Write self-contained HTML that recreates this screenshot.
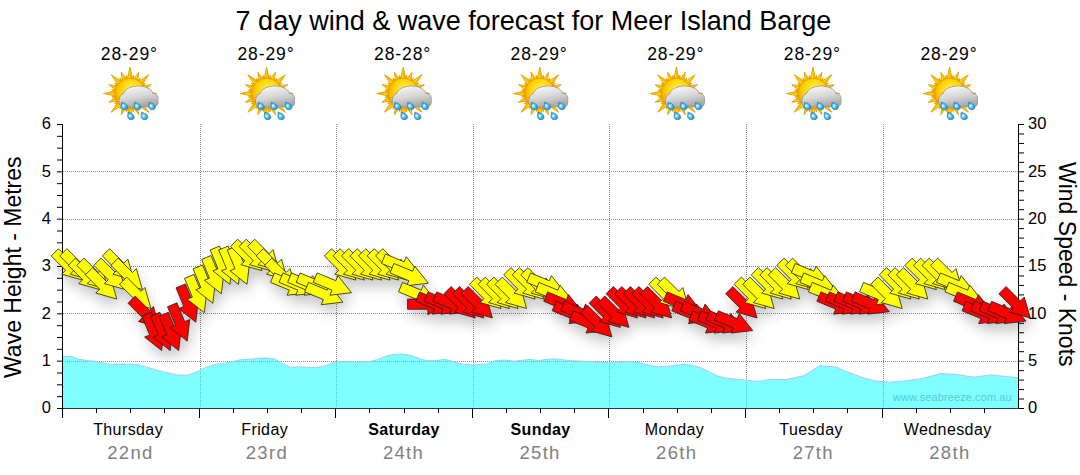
<!DOCTYPE html>
<html><head><meta charset="utf-8"><style>
html,body{margin:0;padding:0;background:#fff;}
body{width:1080px;height:475px;position:relative;overflow:hidden;font-family:"Liberation Sans",sans-serif;}
</style></head><body>
<svg width="1080" height="475" viewBox="0 0 1080 475" style="position:absolute;left:0;top:0">
<defs>
<filter id="sh" x="-20%" y="-50%" width="140%" height="200%"><feGaussianBlur stdDeviation="6.5"/></filter>
<radialGradient id="sun" cx="0.55" cy="0.4" r="0.65"><stop offset="0" stop-color="#fff26a"/><stop offset="0.55" stop-color="#ffd400"/><stop offset="1" stop-color="#f09800"/></radialGradient>
<linearGradient id="cloud" gradientUnits="userSpaceOnUse" x1="0" y1="-8" x2="4" y2="14"><stop offset="0" stop-color="#fafafa"/><stop offset="0.55" stop-color="#d6d6d6"/><stop offset="1" stop-color="#a8a8a8"/></linearGradient>
<radialGradient id="drop" cx="0.4" cy="0.5" r="0.65"><stop offset="0" stop-color="#b8ecff"/><stop offset="0.55" stop-color="#38b4ec"/><stop offset="1" stop-color="#1880c8"/></radialGradient>
<symbol id="icon" overflow="visible"><path d="M-2.92 -12.67 L0.00 -26.50 L2.92 -12.67Z M2.37 -12.78 L8.80 -21.25 L7.36 -10.71Z M6.89 -11.02 L18.74 -18.74 L11.02 -6.89Z M10.71 -7.36 L21.25 -8.80 L12.78 -2.37Z M12.67 -2.92 L26.50 0.00 L12.67 2.92Z M12.78 2.37 L21.25 8.80 L10.71 7.36Z M11.02 6.89 L18.74 18.74 L6.89 11.02Z M7.36 10.71 L8.80 21.25 L2.37 12.78Z M2.92 12.67 L0.00 26.50 L-2.92 12.67Z M-2.37 12.78 L-8.80 21.25 L-7.36 10.71Z M-6.89 11.02 L-18.74 18.74 L-11.02 6.89Z M-10.71 7.36 L-21.25 8.80 L-12.78 2.37Z M-12.67 2.92 L-26.50 0.00 L-12.67 -2.92Z M-12.78 -2.37 L-21.25 -8.80 L-10.71 -7.36Z M-11.02 -6.89 L-18.74 -18.74 L-6.89 -11.02Z M-7.36 -10.71 L-8.80 -21.25 L-2.37 -12.78Z M1.19 -12.95 L3.61 -18.14 L3.86 -12.42Z M6.05 -11.50 L10.28 -15.38 L8.31 -9.99Z M9.99 -8.31 L15.38 -10.28 L11.50 -6.05Z M12.42 -3.86 L18.14 -3.61 L12.95 -1.19Z M12.95 1.19 L18.14 3.61 L12.42 3.86Z M11.50 6.05 L15.38 10.28 L9.99 8.31Z M8.31 9.99 L10.28 15.38 L6.05 11.50Z M3.86 12.42 L3.61 18.14 L1.19 12.95Z M-1.19 12.95 L-3.61 18.14 L-3.86 12.42Z M-6.05 11.50 L-10.28 15.38 L-8.31 9.99Z M-9.99 8.31 L-15.38 10.28 L-11.50 6.05Z M-12.42 3.86 L-18.14 3.61 L-12.95 1.19Z M-12.95 -1.19 L-18.14 -3.61 L-12.42 -3.86Z M-11.50 -6.05 L-15.38 -10.28 L-9.99 -8.31Z M-8.31 -9.99 L-10.28 -15.38 L-6.05 -11.50Z M-3.86 -12.42 L-3.61 -18.14 L-1.19 -12.95Z" fill="#ffd800" stroke="#d89400" stroke-width="0.8" stroke-linejoin="round"/><path d="M0.00 -13.00 L0.00 -26.50 L2.92 -12.67Z M4.97 -12.01 L8.80 -21.25 L7.36 -10.71Z M9.19 -9.19 L18.74 -18.74 L11.02 -6.89Z M12.01 -4.97 L21.25 -8.80 L12.78 -2.37Z M13.00 0.00 L26.50 0.00 L12.67 2.92Z M12.01 4.97 L21.25 8.80 L10.71 7.36Z M9.19 9.19 L18.74 18.74 L6.89 11.02Z M4.97 12.01 L8.80 21.25 L2.37 12.78Z M0.00 13.00 L0.00 26.50 L-2.92 12.67Z M-4.97 12.01 L-8.80 21.25 L-7.36 10.71Z M-9.19 9.19 L-18.74 18.74 L-11.02 6.89Z M-12.01 4.97 L-21.25 8.80 L-12.78 2.37Z M-13.00 0.00 L-26.50 0.00 L-12.67 -2.92Z M-12.01 -4.97 L-21.25 -8.80 L-10.71 -7.36Z M-9.19 -9.19 L-18.74 -18.74 L-6.89 -11.02Z M-4.97 -12.01 L-8.80 -21.25 L-2.37 -12.78Z" fill="#f4b000" opacity="0.85"/><circle cx="0" cy="0" r="15.3" fill="url(#sun)" stroke="#e09000" stroke-width="0.7"/><g fill="#959595" stroke="#959595" stroke-width="1.4"><circle cx="-4.3" cy="6.2" r="6.2"/><ellipse cx="8.2" cy="1.6" rx="14.6" ry="8.9"/><circle cx="22.9" cy="5.2" r="5"/><rect x="-10.5" y="4" width="38.3" height="9" rx="4" ry="4"/></g><g fill="url(#cloud)"><circle cx="-4.3" cy="6.2" r="6.2"/><ellipse cx="8.2" cy="1.6" rx="14.6" ry="8.9"/><circle cx="22.9" cy="5.2" r="5"/><rect x="-10.5" y="4" width="38.3" height="9" rx="4" ry="4"/></g><path d="M-8.50 8.70 C-5.80 9.10 -2.20 10.90 -2.20 13.70 C-2.20 15.80 -3.90 16.20 -5.50 16.20 C-7.70 16.20 -8.90 14.60 -8.90 12.70 Z" fill="url(#drop)" stroke="#2070a8" stroke-width="0.5"/><ellipse cx="-6.70" cy="12.30" rx="1" ry="1.3" fill="#e8f8ff" opacity="0.8"/><path d="M4.50 8.70 C7.20 9.10 10.80 10.90 10.80 13.70 C10.80 15.80 9.10 16.20 7.50 16.20 C5.30 16.20 4.10 14.60 4.10 12.70 Z" fill="url(#drop)" stroke="#2070a8" stroke-width="0.5"/><ellipse cx="6.30" cy="12.30" rx="1" ry="1.3" fill="#e8f8ff" opacity="0.8"/><path d="M19.00 8.70 C21.70 9.10 25.30 10.90 25.30 13.70 C25.30 15.80 23.60 16.20 22.00 16.20 C19.80 16.20 18.60 14.60 18.60 12.70 Z" fill="url(#drop)" stroke="#2070a8" stroke-width="0.5"/><ellipse cx="20.80" cy="12.30" rx="1" ry="1.3" fill="#e8f8ff" opacity="0.8"/><path d="M-2.00 18.70 C0.70 19.10 4.30 20.90 4.30 23.70 C4.30 25.80 2.60 26.20 1.00 26.20 C-1.20 26.20 -2.40 24.60 -2.40 22.70 Z" fill="url(#drop)" stroke="#2070a8" stroke-width="0.5"/><ellipse cx="-0.20" cy="22.30" rx="1" ry="1.3" fill="#e8f8ff" opacity="0.8"/><path d="M11.50 18.70 C14.20 19.10 17.80 20.90 17.80 23.70 C17.80 25.80 16.10 26.20 14.50 26.20 C12.30 26.20 11.10 24.60 11.10 22.70 Z" fill="url(#drop)" stroke="#2070a8" stroke-width="0.5"/><ellipse cx="13.30" cy="22.30" rx="1" ry="1.3" fill="#e8f8ff" opacity="0.8"/></symbol>
</defs>
<line x1="63" y1="361.5" x2="1018" y2="361.5" stroke="#8c8c8c" stroke-width="1" stroke-dasharray="1 1"/>
<line x1="63" y1="313.5" x2="1018" y2="313.5" stroke="#8c8c8c" stroke-width="1" stroke-dasharray="1 1"/>
<line x1="63" y1="266.5" x2="1018" y2="266.5" stroke="#8c8c8c" stroke-width="1" stroke-dasharray="1 1"/>
<line x1="63" y1="219.5" x2="1018" y2="219.5" stroke="#8c8c8c" stroke-width="1" stroke-dasharray="1 1"/>
<line x1="63" y1="171.5" x2="1018" y2="171.5" stroke="#8c8c8c" stroke-width="1" stroke-dasharray="1 1"/>
<line x1="200.5" y1="124" x2="200.5" y2="408" stroke="#8c8c8c" stroke-width="1" stroke-dasharray="1 1"/>
<line x1="336.5" y1="124" x2="336.5" y2="408" stroke="#8c8c8c" stroke-width="1" stroke-dasharray="1 1"/>
<line x1="473.5" y1="124" x2="473.5" y2="408" stroke="#8c8c8c" stroke-width="1" stroke-dasharray="1 1"/>
<line x1="609.5" y1="124" x2="609.5" y2="408" stroke="#8c8c8c" stroke-width="1" stroke-dasharray="1 1"/>
<line x1="746.5" y1="124" x2="746.5" y2="408" stroke="#8c8c8c" stroke-width="1" stroke-dasharray="1 1"/>
<line x1="883.5" y1="124" x2="883.5" y2="408" stroke="#8c8c8c" stroke-width="1" stroke-dasharray="1 1"/>
<path d="M62 408.5 L62.0 356.3 L70.3 356.3 L78.7 359.1 L87.0 360.6 L95.3 361.3 L102.7 363.0 L110.1 364.2 L126.8 364.1 L137.0 364.4 L145.3 366.7 L154.6 369.4 L160.0 370.9 L169.3 373.2 L178.5 375.1 L187.8 375.1 L197.0 371.9 L200.7 369.8 L206.3 367.2 L215.6 364.3 L224.8 363.3 L234.1 361.2 L241.5 359.6 L252.6 358.9 L258.0 358.3 L265.4 357.8 L274.7 359.1 L282.1 363.1 L290.4 367.2 L299.7 366.8 L315.4 367.7 L324.7 366.1 L334.9 361.7 L350.6 361.7 L356.0 362.1 L369.9 361.5 L377.3 359.6 L385.6 356.2 L393.0 354.4 L402.3 354.1 L411.6 355.6 L420.8 359.0 L427.3 360.8 L434.7 360.6 L444.0 359.6 L448.6 360.2 L455.0 362.1 L463.3 364.3 L472.5 364.9 L486.4 364.0 L495.7 360.6 L504.9 360.1 L514.2 361.2 L529.9 359.4 L538.3 360.6 L546.6 359.4 L553.0 358.9 L556.6 358.9 L570.5 360.7 L589.0 361.5 L607.6 362.6 L616.8 362.1 L630.7 361.5 L640.0 362.8 L651.0 365.5 L658.3 366.9 L668.5 366.2 L684.3 364.2 L691.7 365.3 L700.9 367.8 L710.2 372.2 L717.6 376.1 L725.9 378.1 L738.0 379.4 L749.0 380.4 L753.6 381.2 L760.0 381.2 L769.3 379.5 L786.9 379.5 L803.6 375.8 L820.2 365.5 L836.9 367.3 L846.0 371.5 L855.3 374.9 L864.5 378.1 L873.8 380.7 L888.6 382.3 L901.6 381.2 L920.1 378.9 L930.0 376.5 L940.2 373.5 L955.9 374.3 L973.5 377.2 L990.2 374.9 L1018.0 377.7 L1018 408.5 Z" fill="#00ffff" fill-opacity="0.5"/>
<path d="M62.0 356.3 L70.3 356.3 L78.7 359.1 L87.0 360.6 L95.3 361.3 L102.7 363.0 L110.1 364.2 L126.8 364.1 L137.0 364.4 L145.3 366.7 L154.6 369.4 L160.0 370.9 L169.3 373.2 L178.5 375.1 L187.8 375.1 L197.0 371.9 L200.7 369.8 L206.3 367.2 L215.6 364.3 L224.8 363.3 L234.1 361.2 L241.5 359.6 L252.6 358.9 L258.0 358.3 L265.4 357.8 L274.7 359.1 L282.1 363.1 L290.4 367.2 L299.7 366.8 L315.4 367.7 L324.7 366.1 L334.9 361.7 L350.6 361.7 L356.0 362.1 L369.9 361.5 L377.3 359.6 L385.6 356.2 L393.0 354.4 L402.3 354.1 L411.6 355.6 L420.8 359.0 L427.3 360.8 L434.7 360.6 L444.0 359.6 L448.6 360.2 L455.0 362.1 L463.3 364.3 L472.5 364.9 L486.4 364.0 L495.7 360.6 L504.9 360.1 L514.2 361.2 L529.9 359.4 L538.3 360.6 L546.6 359.4 L553.0 358.9 L556.6 358.9 L570.5 360.7 L589.0 361.5 L607.6 362.6 L616.8 362.1 L630.7 361.5 L640.0 362.8 L651.0 365.5 L658.3 366.9 L668.5 366.2 L684.3 364.2 L691.7 365.3 L700.9 367.8 L710.2 372.2 L717.6 376.1 L725.9 378.1 L738.0 379.4 L749.0 380.4 L753.6 381.2 L760.0 381.2 L769.3 379.5 L786.9 379.5 L803.6 375.8 L820.2 365.5 L836.9 367.3 L846.0 371.5 L855.3 374.9 L864.5 378.1 L873.8 380.7 L888.6 382.3 L901.6 381.2 L920.1 378.9 L930.0 376.5 L940.2 373.5 L955.9 374.3 L973.5 377.2 L990.2 374.9 L1018.0 377.7" fill="none" stroke="#9cc4ff" stroke-width="0.9"/>
<line x1="62.5" y1="124" x2="62.5" y2="418" stroke="#000" stroke-width="1"/>
<line x1="1018.5" y1="124" x2="1018.5" y2="409" stroke="#000" stroke-width="1"/>
<line x1="62" y1="408.5" x2="1019" y2="408.5" stroke="#183c64" stroke-width="1"/>
<line x1="57" y1="408.50" x2="62" y2="408.50" stroke="#000" stroke-width="1"/>
<line x1="57" y1="396.67" x2="62" y2="396.67" stroke="#000" stroke-width="1"/>
<line x1="57" y1="384.83" x2="62" y2="384.83" stroke="#000" stroke-width="1"/>
<line x1="57" y1="373.00" x2="62" y2="373.00" stroke="#000" stroke-width="1"/>
<line x1="57" y1="361.17" x2="62" y2="361.17" stroke="#000" stroke-width="1"/>
<line x1="57" y1="349.33" x2="62" y2="349.33" stroke="#000" stroke-width="1"/>
<line x1="57" y1="337.50" x2="62" y2="337.50" stroke="#000" stroke-width="1"/>
<line x1="57" y1="325.67" x2="62" y2="325.67" stroke="#000" stroke-width="1"/>
<line x1="57" y1="313.83" x2="62" y2="313.83" stroke="#000" stroke-width="1"/>
<line x1="57" y1="302.00" x2="62" y2="302.00" stroke="#000" stroke-width="1"/>
<line x1="57" y1="290.17" x2="62" y2="290.17" stroke="#000" stroke-width="1"/>
<line x1="57" y1="278.33" x2="62" y2="278.33" stroke="#000" stroke-width="1"/>
<line x1="57" y1="266.50" x2="62" y2="266.50" stroke="#000" stroke-width="1"/>
<line x1="57" y1="254.67" x2="62" y2="254.67" stroke="#000" stroke-width="1"/>
<line x1="57" y1="242.83" x2="62" y2="242.83" stroke="#000" stroke-width="1"/>
<line x1="57" y1="231.00" x2="62" y2="231.00" stroke="#000" stroke-width="1"/>
<line x1="57" y1="219.17" x2="62" y2="219.17" stroke="#000" stroke-width="1"/>
<line x1="57" y1="207.33" x2="62" y2="207.33" stroke="#000" stroke-width="1"/>
<line x1="57" y1="195.50" x2="62" y2="195.50" stroke="#000" stroke-width="1"/>
<line x1="57" y1="183.67" x2="62" y2="183.67" stroke="#000" stroke-width="1"/>
<line x1="57" y1="171.83" x2="62" y2="171.83" stroke="#000" stroke-width="1"/>
<line x1="57" y1="160.00" x2="62" y2="160.00" stroke="#000" stroke-width="1"/>
<line x1="57" y1="148.17" x2="62" y2="148.17" stroke="#000" stroke-width="1"/>
<line x1="57" y1="136.33" x2="62" y2="136.33" stroke="#000" stroke-width="1"/>
<line x1="57" y1="124.50" x2="62" y2="124.50" stroke="#000" stroke-width="1"/>
<line x1="1019" y1="408.50" x2="1024" y2="408.50" stroke="#000" stroke-width="1"/>
<line x1="1019" y1="399.03" x2="1024" y2="399.03" stroke="#000" stroke-width="1"/>
<line x1="1019" y1="389.57" x2="1024" y2="389.57" stroke="#000" stroke-width="1"/>
<line x1="1019" y1="380.10" x2="1024" y2="380.10" stroke="#000" stroke-width="1"/>
<line x1="1019" y1="370.63" x2="1024" y2="370.63" stroke="#000" stroke-width="1"/>
<line x1="1019" y1="361.17" x2="1024" y2="361.17" stroke="#000" stroke-width="1"/>
<line x1="1019" y1="351.70" x2="1024" y2="351.70" stroke="#000" stroke-width="1"/>
<line x1="1019" y1="342.23" x2="1024" y2="342.23" stroke="#000" stroke-width="1"/>
<line x1="1019" y1="332.77" x2="1024" y2="332.77" stroke="#000" stroke-width="1"/>
<line x1="1019" y1="323.30" x2="1024" y2="323.30" stroke="#000" stroke-width="1"/>
<line x1="1019" y1="313.83" x2="1024" y2="313.83" stroke="#000" stroke-width="1"/>
<line x1="1019" y1="304.37" x2="1024" y2="304.37" stroke="#000" stroke-width="1"/>
<line x1="1019" y1="294.90" x2="1024" y2="294.90" stroke="#000" stroke-width="1"/>
<line x1="1019" y1="285.43" x2="1024" y2="285.43" stroke="#000" stroke-width="1"/>
<line x1="1019" y1="275.97" x2="1024" y2="275.97" stroke="#000" stroke-width="1"/>
<line x1="1019" y1="266.50" x2="1024" y2="266.50" stroke="#000" stroke-width="1"/>
<line x1="1019" y1="257.03" x2="1024" y2="257.03" stroke="#000" stroke-width="1"/>
<line x1="1019" y1="247.57" x2="1024" y2="247.57" stroke="#000" stroke-width="1"/>
<line x1="1019" y1="238.10" x2="1024" y2="238.10" stroke="#000" stroke-width="1"/>
<line x1="1019" y1="228.63" x2="1024" y2="228.63" stroke="#000" stroke-width="1"/>
<line x1="1019" y1="219.17" x2="1024" y2="219.17" stroke="#000" stroke-width="1"/>
<line x1="1019" y1="209.70" x2="1024" y2="209.70" stroke="#000" stroke-width="1"/>
<line x1="1019" y1="200.23" x2="1024" y2="200.23" stroke="#000" stroke-width="1"/>
<line x1="1019" y1="190.77" x2="1024" y2="190.77" stroke="#000" stroke-width="1"/>
<line x1="1019" y1="181.30" x2="1024" y2="181.30" stroke="#000" stroke-width="1"/>
<line x1="1019" y1="171.83" x2="1024" y2="171.83" stroke="#000" stroke-width="1"/>
<line x1="1019" y1="162.37" x2="1024" y2="162.37" stroke="#000" stroke-width="1"/>
<line x1="1019" y1="152.90" x2="1024" y2="152.90" stroke="#000" stroke-width="1"/>
<line x1="1019" y1="143.43" x2="1024" y2="143.43" stroke="#000" stroke-width="1"/>
<line x1="1019" y1="133.97" x2="1024" y2="133.97" stroke="#000" stroke-width="1"/>
<line x1="1019" y1="124.50" x2="1024" y2="124.50" stroke="#000" stroke-width="1"/>
<line x1="62.5" y1="408" x2="62.5" y2="418" stroke="#000" stroke-width="1"/>
<line x1="96.5" y1="408" x2="96.5" y2="413" stroke="#000" stroke-width="1"/>
<line x1="130.5" y1="408" x2="130.5" y2="413" stroke="#000" stroke-width="1"/>
<line x1="164.5" y1="408" x2="164.5" y2="413" stroke="#000" stroke-width="1"/>
<line x1="199.5" y1="408" x2="199.5" y2="418" stroke="#000" stroke-width="1"/>
<line x1="233.5" y1="408" x2="233.5" y2="413" stroke="#000" stroke-width="1"/>
<line x1="267.5" y1="408" x2="267.5" y2="413" stroke="#000" stroke-width="1"/>
<line x1="301.5" y1="408" x2="301.5" y2="413" stroke="#000" stroke-width="1"/>
<line x1="335.5" y1="408" x2="335.5" y2="418" stroke="#000" stroke-width="1"/>
<line x1="369.5" y1="408" x2="369.5" y2="413" stroke="#000" stroke-width="1"/>
<line x1="404.5" y1="408" x2="404.5" y2="413" stroke="#000" stroke-width="1"/>
<line x1="438.5" y1="408" x2="438.5" y2="413" stroke="#000" stroke-width="1"/>
<line x1="472.5" y1="408" x2="472.5" y2="418" stroke="#000" stroke-width="1"/>
<line x1="506.5" y1="408" x2="506.5" y2="413" stroke="#000" stroke-width="1"/>
<line x1="540.5" y1="408" x2="540.5" y2="413" stroke="#000" stroke-width="1"/>
<line x1="574.5" y1="408" x2="574.5" y2="413" stroke="#000" stroke-width="1"/>
<line x1="608.5" y1="408" x2="608.5" y2="418" stroke="#000" stroke-width="1"/>
<line x1="643.5" y1="408" x2="643.5" y2="413" stroke="#000" stroke-width="1"/>
<line x1="677.5" y1="408" x2="677.5" y2="413" stroke="#000" stroke-width="1"/>
<line x1="711.5" y1="408" x2="711.5" y2="413" stroke="#000" stroke-width="1"/>
<line x1="745.5" y1="408" x2="745.5" y2="418" stroke="#000" stroke-width="1"/>
<line x1="779.5" y1="408" x2="779.5" y2="413" stroke="#000" stroke-width="1"/>
<line x1="813.5" y1="408" x2="813.5" y2="413" stroke="#000" stroke-width="1"/>
<line x1="847.5" y1="408" x2="847.5" y2="413" stroke="#000" stroke-width="1"/>
<line x1="882.5" y1="408" x2="882.5" y2="418" stroke="#000" stroke-width="1"/>
<line x1="916.5" y1="408" x2="916.5" y2="413" stroke="#000" stroke-width="1"/>
<line x1="950.5" y1="408" x2="950.5" y2="413" stroke="#000" stroke-width="1"/>
<line x1="984.5" y1="408" x2="984.5" y2="413" stroke="#000" stroke-width="1"/>
<text x="893" y="401" font-family="Liberation Sans" font-size="11" letter-spacing="0.1" fill="#5ccad4">www.seabreeze.com.au</text>
<g filter="url(#sh)" opacity="0.22" transform="translate(2,8)"><path d="M58.39 248.69 L72.75 263.05 L76.64 259.16 L82.58 280.09 L61.65 274.15 L65.54 270.26 L51.18 255.91Z"/><path d="M66.93 248.69 L81.29 263.05 L85.17 259.16 L91.11 280.09 L70.18 274.15 L74.07 270.26 L59.72 255.91Z"/><path d="M75.47 258.16 L89.82 272.51 L93.71 268.62 L99.65 289.56 L78.72 283.62 L82.61 279.73 L68.26 265.37Z"/><path d="M84.01 258.16 L98.36 272.51 L102.25 268.62 L108.19 289.56 L87.26 283.62 L91.15 279.73 L76.79 265.37Z"/><path d="M92.54 267.63 L106.90 281.98 L110.79 278.09 L116.73 299.02 L95.80 293.08 L99.69 289.19 L85.33 274.84Z"/><path d="M101.08 258.16 L115.44 272.51 L119.32 268.62 L125.26 289.56 L104.33 283.62 L108.22 279.73 L93.87 265.37Z"/><path d="M109.62 248.69 L123.97 263.05 L127.86 259.16 L133.80 280.09 L112.87 274.15 L116.76 270.26 L102.41 255.91Z"/><path d="M118.16 258.16 L132.51 272.51 L136.40 268.62 L142.34 289.56 L121.41 283.62 L125.30 279.73 L110.94 265.37Z"/><path d="M126.69 277.09 L141.05 291.45 L144.94 287.56 L150.88 308.49 L129.95 302.55 L133.84 298.66 L119.48 284.31Z"/><path d="M135.23 296.03 L149.59 310.38 L153.47 306.49 L159.41 327.42 L138.48 321.48 L142.37 317.59 L128.02 303.24Z"/><path d="M151.30 312.32 L159.07 331.08 L164.15 328.97 L161.63 350.58 L144.56 337.09 L149.64 334.98 L141.87 316.23Z"/><path d="M159.84 312.32 L167.60 331.08 L172.69 328.97 L170.16 350.58 L153.10 337.09 L158.18 334.98 L150.41 316.23Z"/><path d="M168.37 312.32 L176.14 331.08 L181.22 328.97 L178.70 350.58 L161.64 337.09 L166.72 334.98 L158.95 316.23Z"/><path d="M176.91 302.86 L184.68 321.61 L189.76 319.51 L187.24 341.12 L170.17 327.62 L175.26 325.51 L167.49 306.76Z"/><path d="M185.45 283.92 L193.22 302.68 L198.30 300.57 L195.78 322.18 L178.71 308.69 L183.79 306.58 L176.02 287.83Z"/><path d="M193.99 274.46 L201.75 293.21 L206.84 291.11 L204.31 312.72 L187.25 299.22 L192.33 297.11 L184.56 278.36Z"/><path d="M202.52 264.99 L210.29 283.74 L215.37 281.64 L212.85 303.25 L195.79 289.75 L200.87 287.65 L193.10 268.89Z"/><path d="M211.06 255.52 L218.83 274.28 L223.91 272.17 L221.39 293.78 L204.32 280.29 L209.41 278.18 L201.64 259.43Z"/><path d="M219.60 246.06 L227.37 264.81 L232.45 262.71 L229.93 284.32 L212.86 270.82 L217.94 268.71 L210.17 249.96Z"/><path d="M228.14 246.06 L235.90 264.81 L240.99 262.71 L238.46 284.32 L221.40 270.82 L226.48 268.71 L218.71 249.96Z"/><path d="M236.67 246.06 L244.44 264.81 L249.52 262.71 L247.00 284.32 L229.94 270.82 L235.02 268.71 L227.25 249.96Z"/><path d="M237.68 239.23 L252.04 253.58 L255.92 249.69 L261.86 270.62 L240.93 264.68 L244.82 260.79 L230.47 246.44Z"/><path d="M246.22 239.23 L260.57 253.58 L264.46 249.69 L270.40 270.62 L249.47 264.68 L253.36 260.79 L239.01 246.44Z"/><path d="M254.76 239.23 L269.11 253.58 L273.00 249.69 L278.94 270.62 L258.01 264.68 L261.90 260.79 L247.54 246.44Z"/><path d="M263.29 248.69 L277.65 263.05 L281.54 259.16 L287.48 280.09 L266.55 274.15 L270.44 270.26 L256.08 255.91Z"/><path d="M271.83 258.16 L286.19 272.51 L290.07 268.62 L296.01 289.56 L275.08 283.62 L278.97 279.73 L264.62 265.37Z"/><path d="M274.42 272.94 L293.18 280.71 L295.28 275.63 L308.78 292.70 L287.17 295.22 L289.27 290.14 L270.52 282.37Z"/><path d="M282.96 272.94 L301.71 280.71 L303.82 275.63 L317.32 292.70 L295.71 295.22 L297.81 290.14 L279.06 282.37Z"/><path d="M291.50 272.94 L310.25 280.71 L312.36 275.63 L325.85 292.70 L304.24 295.22 L306.35 290.14 L287.59 282.37Z"/><path d="M300.03 272.94 L318.79 280.71 L320.89 275.63 L334.39 292.70 L312.78 295.22 L314.89 290.14 L296.13 282.37Z"/><path d="M308.57 282.41 L327.33 290.18 L329.43 285.10 L342.93 302.16 L321.32 304.68 L323.42 299.60 L304.67 291.83Z"/><path d="M317.11 272.94 L335.86 280.71 L337.97 275.63 L351.47 292.70 L329.86 295.22 L331.96 290.14 L313.21 282.37Z"/><path d="M331.59 248.69 L345.95 263.05 L349.84 259.16 L355.78 280.09 L334.85 274.15 L338.74 270.26 L324.38 255.91Z"/><path d="M340.13 248.69 L354.49 263.05 L358.37 259.16 L364.31 280.09 L343.38 274.15 L347.27 270.26 L332.92 255.91Z"/><path d="M348.67 248.69 L363.02 263.05 L366.91 259.16 L372.85 280.09 L351.92 274.15 L355.81 270.26 L341.46 255.91Z"/><path d="M357.21 248.69 L371.56 263.05 L375.45 259.16 L381.39 280.09 L360.46 274.15 L364.35 270.26 L349.99 255.91Z"/><path d="M365.74 248.69 L380.10 263.05 L383.99 259.16 L389.93 280.09 L369.00 274.15 L372.89 270.26 L358.53 255.91Z"/><path d="M374.28 248.69 L388.64 263.05 L392.52 259.16 L398.46 280.09 L377.53 274.15 L381.42 270.26 L367.07 255.91Z"/><path d="M382.82 248.69 L397.17 263.05 L401.06 259.16 L407.00 280.09 L386.07 274.15 L389.96 270.26 L375.61 255.91Z"/><path d="M385.41 254.01 L404.16 261.78 L406.27 256.70 L419.77 273.76 L398.16 276.28 L400.26 271.20 L381.51 263.43Z"/><path d="M393.95 263.48 L412.70 271.25 L414.81 266.16 L428.30 283.23 L406.69 285.75 L408.80 280.67 L390.04 272.90Z"/><path d="M402.48 282.41 L421.24 290.18 L423.34 285.10 L436.84 302.16 L415.23 304.68 L417.34 299.60 L398.58 291.83Z"/><path d="M407.56 299.07 L427.86 299.07 L427.86 293.57 L446.86 304.17 L427.86 314.77 L427.86 309.27 L407.56 309.27Z"/><path d="M419.56 291.88 L438.31 299.65 L440.42 294.56 L453.92 311.63 L432.31 314.15 L434.41 309.07 L415.66 301.30Z"/><path d="M428.10 291.88 L446.85 299.65 L448.96 294.56 L462.45 311.63 L440.84 314.15 L442.95 309.07 L424.19 301.30Z"/><path d="M436.63 291.88 L455.39 299.65 L457.49 294.56 L470.99 311.63 L449.38 314.15 L451.49 309.07 L432.73 301.30Z"/><path d="M451.12 286.56 L465.47 300.91 L469.36 297.02 L475.30 317.96 L454.37 312.02 L458.26 308.13 L443.91 293.77Z"/><path d="M459.66 286.56 L474.01 300.91 L477.90 297.02 L483.84 317.96 L462.91 312.02 L466.80 308.13 L452.44 293.77Z"/><path d="M468.19 286.56 L482.55 300.91 L486.44 297.02 L492.38 317.96 L471.45 312.02 L475.34 308.13 L460.98 293.77Z"/><path d="M476.73 277.09 L491.09 291.45 L494.97 287.56 L500.91 308.49 L479.98 302.55 L483.87 298.66 L469.52 284.31Z"/><path d="M485.27 277.09 L499.62 291.45 L503.51 287.56 L509.45 308.49 L488.52 302.55 L492.41 298.66 L478.06 284.31Z"/><path d="M493.81 277.09 L508.16 291.45 L512.05 287.56 L517.99 308.49 L497.06 302.55 L500.95 298.66 L486.59 284.31Z"/><path d="M502.34 277.09 L516.70 291.45 L520.59 287.56 L526.53 308.49 L505.60 302.55 L509.49 298.66 L495.13 284.31Z"/><path d="M510.88 267.63 L525.24 281.98 L529.12 278.09 L535.06 299.02 L514.13 293.08 L518.02 289.19 L503.67 274.84Z"/><path d="M519.42 267.63 L533.77 281.98 L537.66 278.09 L543.60 299.02 L522.67 293.08 L526.56 289.19 L512.21 274.84Z"/><path d="M527.96 267.63 L542.31 281.98 L546.20 278.09 L552.14 299.02 L531.21 293.08 L535.10 289.19 L520.74 274.84Z"/><path d="M530.55 272.94 L549.30 280.71 L551.41 275.63 L564.90 292.70 L543.29 295.22 L545.40 290.14 L526.64 282.37Z"/><path d="M539.08 282.41 L557.84 290.18 L559.94 285.10 L573.44 302.16 L551.83 304.68 L553.94 299.60 L535.18 291.83Z"/><path d="M547.62 291.88 L566.38 299.65 L568.48 294.56 L581.98 311.63 L560.37 314.15 L562.47 309.07 L543.72 301.30Z"/><path d="M556.16 301.34 L574.91 309.11 L577.02 304.03 L590.52 321.10 L568.91 323.62 L571.01 318.54 L552.26 310.77Z"/><path d="M564.70 301.34 L583.45 309.11 L585.56 304.03 L599.05 321.10 L577.44 323.62 L579.55 318.54 L560.79 310.77Z"/><path d="M573.23 310.81 L591.99 318.58 L594.09 313.50 L607.59 330.56 L585.98 333.08 L588.09 328.00 L569.33 320.23Z"/><path d="M587.72 305.49 L602.07 319.85 L605.96 315.96 L611.90 336.89 L590.97 330.95 L594.86 327.06 L580.51 312.71Z"/><path d="M596.26 296.03 L610.61 310.38 L614.50 306.49 L620.44 327.42 L599.51 321.48 L603.40 317.59 L589.04 303.24Z"/><path d="M604.79 296.03 L619.15 310.38 L623.04 306.49 L628.98 327.42 L608.05 321.48 L611.94 317.59 L597.58 303.24Z"/><path d="M613.33 286.56 L627.69 300.91 L631.57 297.02 L637.51 317.96 L616.58 312.02 L620.47 308.13 L606.12 293.77Z"/><path d="M621.87 286.56 L636.22 300.91 L640.11 297.02 L646.05 317.96 L625.12 312.02 L629.01 308.13 L614.66 293.77Z"/><path d="M630.41 286.56 L644.76 300.91 L648.65 297.02 L654.59 317.96 L633.66 312.02 L637.55 308.13 L623.19 293.77Z"/><path d="M638.94 286.56 L653.30 300.91 L657.19 297.02 L663.13 317.96 L642.20 312.02 L646.09 308.13 L631.73 293.77Z"/><path d="M647.48 286.56 L661.84 300.91 L665.72 297.02 L671.66 317.96 L650.73 312.02 L654.62 308.13 L640.27 293.77Z"/><path d="M656.02 277.09 L670.37 291.45 L674.26 287.56 L680.20 308.49 L659.27 302.55 L663.16 298.66 L648.81 284.31Z"/><path d="M664.56 277.09 L678.91 291.45 L682.80 287.56 L688.74 308.49 L667.81 302.55 L671.70 298.66 L657.34 284.31Z"/><path d="M667.15 291.88 L685.90 299.65 L688.01 294.56 L701.50 311.63 L679.89 314.15 L682.00 309.07 L663.24 301.30Z"/><path d="M675.68 301.34 L694.44 309.11 L696.54 304.03 L710.04 321.10 L688.43 323.62 L690.54 318.54 L671.78 310.77Z"/><path d="M684.22 301.34 L702.98 309.11 L705.08 304.03 L718.58 321.10 L696.97 323.62 L699.07 318.54 L680.32 310.77Z"/><path d="M692.76 310.81 L711.51 318.58 L713.62 313.50 L727.12 330.56 L705.51 333.08 L707.61 328.00 L688.86 320.23Z"/><path d="M701.30 310.81 L720.05 318.58 L722.16 313.50 L735.65 330.56 L714.04 333.08 L716.15 328.00 L697.39 320.23Z"/><path d="M709.83 310.81 L728.59 318.58 L730.69 313.50 L744.19 330.56 L722.58 333.08 L724.69 328.00 L705.93 320.23Z"/><path d="M718.37 310.81 L737.13 318.58 L739.23 313.50 L752.73 330.56 L731.12 333.08 L733.22 328.00 L714.47 320.23Z"/><path d="M732.86 286.56 L747.21 300.91 L751.10 297.02 L757.04 317.96 L736.11 312.02 L740.00 308.13 L725.64 293.77Z"/><path d="M741.39 277.09 L755.75 291.45 L759.64 287.56 L765.58 308.49 L744.65 302.55 L748.54 298.66 L734.18 284.31Z"/><path d="M749.93 277.09 L764.29 291.45 L768.17 287.56 L774.11 308.49 L753.18 302.55 L757.07 298.66 L742.72 284.31Z"/><path d="M758.47 267.63 L772.82 281.98 L776.71 278.09 L782.65 299.02 L761.72 293.08 L765.61 289.19 L751.26 274.84Z"/><path d="M767.01 267.63 L781.36 281.98 L785.25 278.09 L791.19 299.02 L770.26 293.08 L774.15 289.19 L759.79 274.84Z"/><path d="M775.54 267.63 L789.90 281.98 L793.79 278.09 L799.73 299.02 L778.80 293.08 L782.69 289.19 L768.33 274.84Z"/><path d="M784.08 258.16 L798.44 272.51 L802.32 268.62 L808.26 289.56 L787.33 283.62 L791.22 279.73 L776.87 265.37Z"/><path d="M792.62 258.16 L806.97 272.51 L810.86 268.62 L816.80 289.56 L795.87 283.62 L799.76 279.73 L785.41 265.37Z"/><path d="M795.21 263.48 L813.96 271.25 L816.07 266.16 L829.57 283.23 L807.96 285.75 L810.06 280.67 L791.31 272.90Z"/><path d="M803.75 272.94 L822.50 280.71 L824.61 275.63 L838.10 292.70 L816.49 295.22 L818.60 290.14 L799.84 282.37Z"/><path d="M812.28 282.41 L831.04 290.18 L833.14 285.10 L846.64 302.16 L825.03 304.68 L827.14 299.60 L808.38 291.83Z"/><path d="M820.82 291.88 L839.58 299.65 L841.68 294.56 L855.18 311.63 L833.57 314.15 L835.67 309.07 L816.92 301.30Z"/><path d="M829.36 291.88 L848.11 299.65 L850.22 294.56 L863.72 311.63 L842.11 314.15 L844.21 309.07 L825.46 301.30Z"/><path d="M837.90 291.88 L856.65 299.65 L858.76 294.56 L872.25 311.63 L850.64 314.15 L852.75 309.07 L833.99 301.30Z"/><path d="M846.43 291.88 L865.19 299.65 L867.29 294.56 L880.79 311.63 L859.18 314.15 L861.29 309.07 L842.53 301.30Z"/><path d="M854.97 291.88 L873.73 299.65 L875.83 294.56 L889.33 311.63 L867.72 314.15 L869.82 309.07 L851.07 301.30Z"/><path d="M863.51 282.41 L882.26 290.18 L884.37 285.10 L897.87 302.16 L876.26 304.68 L878.36 299.60 L859.61 291.83Z"/><path d="M877.99 277.09 L892.35 291.45 L896.24 287.56 L902.18 308.49 L881.25 302.55 L885.14 298.66 L870.78 284.31Z"/><path d="M886.53 267.63 L900.89 281.98 L904.77 278.09 L910.71 299.02 L889.78 293.08 L893.67 289.19 L879.32 274.84Z"/><path d="M895.07 267.63 L909.42 281.98 L913.31 278.09 L919.25 299.02 L898.32 293.08 L902.21 289.19 L887.86 274.84Z"/><path d="M903.61 267.63 L917.96 281.98 L921.85 278.09 L927.79 299.02 L906.86 293.08 L910.75 289.19 L896.39 274.84Z"/><path d="M912.14 258.16 L926.50 272.51 L930.39 268.62 L936.33 289.56 L915.40 283.62 L919.29 279.73 L904.93 265.37Z"/><path d="M920.68 258.16 L935.04 272.51 L938.92 268.62 L944.86 289.56 L923.93 283.62 L927.82 279.73 L913.47 265.37Z"/><path d="M929.22 258.16 L943.57 272.51 L947.46 268.62 L953.40 289.56 L932.47 283.62 L936.36 279.73 L922.01 265.37Z"/><path d="M937.76 258.16 L952.11 272.51 L956.00 268.62 L961.94 289.56 L941.01 283.62 L944.90 279.73 L930.54 265.37Z"/><path d="M940.35 272.94 L959.10 280.71 L961.21 275.63 L974.70 292.70 L953.09 295.22 L955.20 290.14 L936.44 282.37Z"/><path d="M948.88 282.41 L967.64 290.18 L969.74 285.10 L983.24 302.16 L961.63 304.68 L963.74 299.60 L944.98 291.83Z"/><path d="M957.42 291.88 L976.18 299.65 L978.28 294.56 L991.78 311.63 L970.17 314.15 L972.27 309.07 L953.52 301.30Z"/><path d="M965.96 301.34 L984.71 309.11 L986.82 304.03 L1000.32 321.10 L978.71 323.62 L980.81 318.54 L962.06 310.77Z"/><path d="M974.50 301.34 L993.25 309.11 L995.36 304.03 L1008.85 321.10 L987.24 323.62 L989.35 318.54 L970.59 310.77Z"/><path d="M983.03 301.34 L1001.79 309.11 L1003.89 304.03 L1017.39 321.10 L995.78 323.62 L997.89 318.54 L979.13 310.77Z"/><path d="M991.57 301.34 L1010.33 309.11 L1012.43 304.03 L1025.93 321.10 L1004.32 323.62 L1006.42 318.54 L987.67 310.77Z"/><path d="M1006.06 286.56 L1020.41 300.91 L1024.30 297.02 L1030.24 317.96 L1009.31 312.02 L1013.20 308.13 L998.84 293.77Z"/></g>
<g stroke="#202020" stroke-width="0.8" stroke-linejoin="miter"><path d="M58.39 248.69 L72.75 263.05 L76.64 259.16 L82.58 280.09 L61.65 274.15 L65.54 270.26 L51.18 255.91Z" fill="#ffff00"/><path d="M66.93 248.69 L81.29 263.05 L85.17 259.16 L91.11 280.09 L70.18 274.15 L74.07 270.26 L59.72 255.91Z" fill="#ffff00"/><path d="M75.47 258.16 L89.82 272.51 L93.71 268.62 L99.65 289.56 L78.72 283.62 L82.61 279.73 L68.26 265.37Z" fill="#ffff00"/><path d="M84.01 258.16 L98.36 272.51 L102.25 268.62 L108.19 289.56 L87.26 283.62 L91.15 279.73 L76.79 265.37Z" fill="#ffff00"/><path d="M92.54 267.63 L106.90 281.98 L110.79 278.09 L116.73 299.02 L95.80 293.08 L99.69 289.19 L85.33 274.84Z" fill="#ffff00"/><path d="M101.08 258.16 L115.44 272.51 L119.32 268.62 L125.26 289.56 L104.33 283.62 L108.22 279.73 L93.87 265.37Z" fill="#ffff00"/><path d="M109.62 248.69 L123.97 263.05 L127.86 259.16 L133.80 280.09 L112.87 274.15 L116.76 270.26 L102.41 255.91Z" fill="#ffff00"/><path d="M118.16 258.16 L132.51 272.51 L136.40 268.62 L142.34 289.56 L121.41 283.62 L125.30 279.73 L110.94 265.37Z" fill="#ffff00"/><path d="M126.69 277.09 L141.05 291.45 L144.94 287.56 L150.88 308.49 L129.95 302.55 L133.84 298.66 L119.48 284.31Z" fill="#ffff00"/><path d="M135.23 296.03 L149.59 310.38 L153.47 306.49 L159.41 327.42 L138.48 321.48 L142.37 317.59 L128.02 303.24Z" fill="#ff0000"/><path d="M151.30 312.32 L159.07 331.08 L164.15 328.97 L161.63 350.58 L144.56 337.09 L149.64 334.98 L141.87 316.23Z" fill="#ff0000"/><path d="M159.84 312.32 L167.60 331.08 L172.69 328.97 L170.16 350.58 L153.10 337.09 L158.18 334.98 L150.41 316.23Z" fill="#ff0000"/><path d="M168.37 312.32 L176.14 331.08 L181.22 328.97 L178.70 350.58 L161.64 337.09 L166.72 334.98 L158.95 316.23Z" fill="#ff0000"/><path d="M176.91 302.86 L184.68 321.61 L189.76 319.51 L187.24 341.12 L170.17 327.62 L175.26 325.51 L167.49 306.76Z" fill="#ff0000"/><path d="M185.45 283.92 L193.22 302.68 L198.30 300.57 L195.78 322.18 L178.71 308.69 L183.79 306.58 L176.02 287.83Z" fill="#ff0000"/><path d="M193.99 274.46 L201.75 293.21 L206.84 291.11 L204.31 312.72 L187.25 299.22 L192.33 297.11 L184.56 278.36Z" fill="#ffff00"/><path d="M202.52 264.99 L210.29 283.74 L215.37 281.64 L212.85 303.25 L195.79 289.75 L200.87 287.65 L193.10 268.89Z" fill="#ffff00"/><path d="M211.06 255.52 L218.83 274.28 L223.91 272.17 L221.39 293.78 L204.32 280.29 L209.41 278.18 L201.64 259.43Z" fill="#ffff00"/><path d="M219.60 246.06 L227.37 264.81 L232.45 262.71 L229.93 284.32 L212.86 270.82 L217.94 268.71 L210.17 249.96Z" fill="#ffff00"/><path d="M228.14 246.06 L235.90 264.81 L240.99 262.71 L238.46 284.32 L221.40 270.82 L226.48 268.71 L218.71 249.96Z" fill="#ffff00"/><path d="M236.67 246.06 L244.44 264.81 L249.52 262.71 L247.00 284.32 L229.94 270.82 L235.02 268.71 L227.25 249.96Z" fill="#ffff00"/><path d="M237.68 239.23 L252.04 253.58 L255.92 249.69 L261.86 270.62 L240.93 264.68 L244.82 260.79 L230.47 246.44Z" fill="#ffff00"/><path d="M246.22 239.23 L260.57 253.58 L264.46 249.69 L270.40 270.62 L249.47 264.68 L253.36 260.79 L239.01 246.44Z" fill="#ffff00"/><path d="M254.76 239.23 L269.11 253.58 L273.00 249.69 L278.94 270.62 L258.01 264.68 L261.90 260.79 L247.54 246.44Z" fill="#ffff00"/><path d="M263.29 248.69 L277.65 263.05 L281.54 259.16 L287.48 280.09 L266.55 274.15 L270.44 270.26 L256.08 255.91Z" fill="#ffff00"/><path d="M271.83 258.16 L286.19 272.51 L290.07 268.62 L296.01 289.56 L275.08 283.62 L278.97 279.73 L264.62 265.37Z" fill="#ffff00"/><path d="M274.42 272.94 L293.18 280.71 L295.28 275.63 L308.78 292.70 L287.17 295.22 L289.27 290.14 L270.52 282.37Z" fill="#ffff00"/><path d="M282.96 272.94 L301.71 280.71 L303.82 275.63 L317.32 292.70 L295.71 295.22 L297.81 290.14 L279.06 282.37Z" fill="#ffff00"/><path d="M291.50 272.94 L310.25 280.71 L312.36 275.63 L325.85 292.70 L304.24 295.22 L306.35 290.14 L287.59 282.37Z" fill="#ffff00"/><path d="M300.03 272.94 L318.79 280.71 L320.89 275.63 L334.39 292.70 L312.78 295.22 L314.89 290.14 L296.13 282.37Z" fill="#ffff00"/><path d="M308.57 282.41 L327.33 290.18 L329.43 285.10 L342.93 302.16 L321.32 304.68 L323.42 299.60 L304.67 291.83Z" fill="#ffff00"/><path d="M317.11 272.94 L335.86 280.71 L337.97 275.63 L351.47 292.70 L329.86 295.22 L331.96 290.14 L313.21 282.37Z" fill="#ffff00"/><path d="M331.59 248.69 L345.95 263.05 L349.84 259.16 L355.78 280.09 L334.85 274.15 L338.74 270.26 L324.38 255.91Z" fill="#ffff00"/><path d="M340.13 248.69 L354.49 263.05 L358.37 259.16 L364.31 280.09 L343.38 274.15 L347.27 270.26 L332.92 255.91Z" fill="#ffff00"/><path d="M348.67 248.69 L363.02 263.05 L366.91 259.16 L372.85 280.09 L351.92 274.15 L355.81 270.26 L341.46 255.91Z" fill="#ffff00"/><path d="M357.21 248.69 L371.56 263.05 L375.45 259.16 L381.39 280.09 L360.46 274.15 L364.35 270.26 L349.99 255.91Z" fill="#ffff00"/><path d="M365.74 248.69 L380.10 263.05 L383.99 259.16 L389.93 280.09 L369.00 274.15 L372.89 270.26 L358.53 255.91Z" fill="#ffff00"/><path d="M374.28 248.69 L388.64 263.05 L392.52 259.16 L398.46 280.09 L377.53 274.15 L381.42 270.26 L367.07 255.91Z" fill="#ffff00"/><path d="M382.82 248.69 L397.17 263.05 L401.06 259.16 L407.00 280.09 L386.07 274.15 L389.96 270.26 L375.61 255.91Z" fill="#ffff00"/><path d="M385.41 254.01 L404.16 261.78 L406.27 256.70 L419.77 273.76 L398.16 276.28 L400.26 271.20 L381.51 263.43Z" fill="#ffff00"/><path d="M393.95 263.48 L412.70 271.25 L414.81 266.16 L428.30 283.23 L406.69 285.75 L408.80 280.67 L390.04 272.90Z" fill="#ffff00"/><path d="M402.48 282.41 L421.24 290.18 L423.34 285.10 L436.84 302.16 L415.23 304.68 L417.34 299.60 L398.58 291.83Z" fill="#ffff00"/><path d="M407.56 299.07 L427.86 299.07 L427.86 293.57 L446.86 304.17 L427.86 314.77 L427.86 309.27 L407.56 309.27Z" fill="#ff0000"/><path d="M419.56 291.88 L438.31 299.65 L440.42 294.56 L453.92 311.63 L432.31 314.15 L434.41 309.07 L415.66 301.30Z" fill="#ff0000"/><path d="M428.10 291.88 L446.85 299.65 L448.96 294.56 L462.45 311.63 L440.84 314.15 L442.95 309.07 L424.19 301.30Z" fill="#ff0000"/><path d="M436.63 291.88 L455.39 299.65 L457.49 294.56 L470.99 311.63 L449.38 314.15 L451.49 309.07 L432.73 301.30Z" fill="#ff0000"/><path d="M451.12 286.56 L465.47 300.91 L469.36 297.02 L475.30 317.96 L454.37 312.02 L458.26 308.13 L443.91 293.77Z" fill="#ff0000"/><path d="M459.66 286.56 L474.01 300.91 L477.90 297.02 L483.84 317.96 L462.91 312.02 L466.80 308.13 L452.44 293.77Z" fill="#ff0000"/><path d="M468.19 286.56 L482.55 300.91 L486.44 297.02 L492.38 317.96 L471.45 312.02 L475.34 308.13 L460.98 293.77Z" fill="#ff0000"/><path d="M476.73 277.09 L491.09 291.45 L494.97 287.56 L500.91 308.49 L479.98 302.55 L483.87 298.66 L469.52 284.31Z" fill="#ffff00"/><path d="M485.27 277.09 L499.62 291.45 L503.51 287.56 L509.45 308.49 L488.52 302.55 L492.41 298.66 L478.06 284.31Z" fill="#ffff00"/><path d="M493.81 277.09 L508.16 291.45 L512.05 287.56 L517.99 308.49 L497.06 302.55 L500.95 298.66 L486.59 284.31Z" fill="#ffff00"/><path d="M502.34 277.09 L516.70 291.45 L520.59 287.56 L526.53 308.49 L505.60 302.55 L509.49 298.66 L495.13 284.31Z" fill="#ffff00"/><path d="M510.88 267.63 L525.24 281.98 L529.12 278.09 L535.06 299.02 L514.13 293.08 L518.02 289.19 L503.67 274.84Z" fill="#ffff00"/><path d="M519.42 267.63 L533.77 281.98 L537.66 278.09 L543.60 299.02 L522.67 293.08 L526.56 289.19 L512.21 274.84Z" fill="#ffff00"/><path d="M527.96 267.63 L542.31 281.98 L546.20 278.09 L552.14 299.02 L531.21 293.08 L535.10 289.19 L520.74 274.84Z" fill="#ffff00"/><path d="M530.55 272.94 L549.30 280.71 L551.41 275.63 L564.90 292.70 L543.29 295.22 L545.40 290.14 L526.64 282.37Z" fill="#ffff00"/><path d="M539.08 282.41 L557.84 290.18 L559.94 285.10 L573.44 302.16 L551.83 304.68 L553.94 299.60 L535.18 291.83Z" fill="#ffff00"/><path d="M547.62 291.88 L566.38 299.65 L568.48 294.56 L581.98 311.63 L560.37 314.15 L562.47 309.07 L543.72 301.30Z" fill="#ff0000"/><path d="M556.16 301.34 L574.91 309.11 L577.02 304.03 L590.52 321.10 L568.91 323.62 L571.01 318.54 L552.26 310.77Z" fill="#ff0000"/><path d="M564.70 301.34 L583.45 309.11 L585.56 304.03 L599.05 321.10 L577.44 323.62 L579.55 318.54 L560.79 310.77Z" fill="#ff0000"/><path d="M573.23 310.81 L591.99 318.58 L594.09 313.50 L607.59 330.56 L585.98 333.08 L588.09 328.00 L569.33 320.23Z" fill="#ff0000"/><path d="M587.72 305.49 L602.07 319.85 L605.96 315.96 L611.90 336.89 L590.97 330.95 L594.86 327.06 L580.51 312.71Z" fill="#ff0000"/><path d="M596.26 296.03 L610.61 310.38 L614.50 306.49 L620.44 327.42 L599.51 321.48 L603.40 317.59 L589.04 303.24Z" fill="#ff0000"/><path d="M604.79 296.03 L619.15 310.38 L623.04 306.49 L628.98 327.42 L608.05 321.48 L611.94 317.59 L597.58 303.24Z" fill="#ff0000"/><path d="M613.33 286.56 L627.69 300.91 L631.57 297.02 L637.51 317.96 L616.58 312.02 L620.47 308.13 L606.12 293.77Z" fill="#ff0000"/><path d="M621.87 286.56 L636.22 300.91 L640.11 297.02 L646.05 317.96 L625.12 312.02 L629.01 308.13 L614.66 293.77Z" fill="#ff0000"/><path d="M630.41 286.56 L644.76 300.91 L648.65 297.02 L654.59 317.96 L633.66 312.02 L637.55 308.13 L623.19 293.77Z" fill="#ff0000"/><path d="M638.94 286.56 L653.30 300.91 L657.19 297.02 L663.13 317.96 L642.20 312.02 L646.09 308.13 L631.73 293.77Z" fill="#ff0000"/><path d="M647.48 286.56 L661.84 300.91 L665.72 297.02 L671.66 317.96 L650.73 312.02 L654.62 308.13 L640.27 293.77Z" fill="#ff0000"/><path d="M656.02 277.09 L670.37 291.45 L674.26 287.56 L680.20 308.49 L659.27 302.55 L663.16 298.66 L648.81 284.31Z" fill="#ffff00"/><path d="M664.56 277.09 L678.91 291.45 L682.80 287.56 L688.74 308.49 L667.81 302.55 L671.70 298.66 L657.34 284.31Z" fill="#ffff00"/><path d="M667.15 291.88 L685.90 299.65 L688.01 294.56 L701.50 311.63 L679.89 314.15 L682.00 309.07 L663.24 301.30Z" fill="#ff0000"/><path d="M675.68 301.34 L694.44 309.11 L696.54 304.03 L710.04 321.10 L688.43 323.62 L690.54 318.54 L671.78 310.77Z" fill="#ff0000"/><path d="M684.22 301.34 L702.98 309.11 L705.08 304.03 L718.58 321.10 L696.97 323.62 L699.07 318.54 L680.32 310.77Z" fill="#ff0000"/><path d="M692.76 310.81 L711.51 318.58 L713.62 313.50 L727.12 330.56 L705.51 333.08 L707.61 328.00 L688.86 320.23Z" fill="#ff0000"/><path d="M701.30 310.81 L720.05 318.58 L722.16 313.50 L735.65 330.56 L714.04 333.08 L716.15 328.00 L697.39 320.23Z" fill="#ff0000"/><path d="M709.83 310.81 L728.59 318.58 L730.69 313.50 L744.19 330.56 L722.58 333.08 L724.69 328.00 L705.93 320.23Z" fill="#ff0000"/><path d="M718.37 310.81 L737.13 318.58 L739.23 313.50 L752.73 330.56 L731.12 333.08 L733.22 328.00 L714.47 320.23Z" fill="#ff0000"/><path d="M732.86 286.56 L747.21 300.91 L751.10 297.02 L757.04 317.96 L736.11 312.02 L740.00 308.13 L725.64 293.77Z" fill="#ff0000"/><path d="M741.39 277.09 L755.75 291.45 L759.64 287.56 L765.58 308.49 L744.65 302.55 L748.54 298.66 L734.18 284.31Z" fill="#ffff00"/><path d="M749.93 277.09 L764.29 291.45 L768.17 287.56 L774.11 308.49 L753.18 302.55 L757.07 298.66 L742.72 284.31Z" fill="#ffff00"/><path d="M758.47 267.63 L772.82 281.98 L776.71 278.09 L782.65 299.02 L761.72 293.08 L765.61 289.19 L751.26 274.84Z" fill="#ffff00"/><path d="M767.01 267.63 L781.36 281.98 L785.25 278.09 L791.19 299.02 L770.26 293.08 L774.15 289.19 L759.79 274.84Z" fill="#ffff00"/><path d="M775.54 267.63 L789.90 281.98 L793.79 278.09 L799.73 299.02 L778.80 293.08 L782.69 289.19 L768.33 274.84Z" fill="#ffff00"/><path d="M784.08 258.16 L798.44 272.51 L802.32 268.62 L808.26 289.56 L787.33 283.62 L791.22 279.73 L776.87 265.37Z" fill="#ffff00"/><path d="M792.62 258.16 L806.97 272.51 L810.86 268.62 L816.80 289.56 L795.87 283.62 L799.76 279.73 L785.41 265.37Z" fill="#ffff00"/><path d="M795.21 263.48 L813.96 271.25 L816.07 266.16 L829.57 283.23 L807.96 285.75 L810.06 280.67 L791.31 272.90Z" fill="#ffff00"/><path d="M803.75 272.94 L822.50 280.71 L824.61 275.63 L838.10 292.70 L816.49 295.22 L818.60 290.14 L799.84 282.37Z" fill="#ffff00"/><path d="M812.28 282.41 L831.04 290.18 L833.14 285.10 L846.64 302.16 L825.03 304.68 L827.14 299.60 L808.38 291.83Z" fill="#ffff00"/><path d="M820.82 291.88 L839.58 299.65 L841.68 294.56 L855.18 311.63 L833.57 314.15 L835.67 309.07 L816.92 301.30Z" fill="#ff0000"/><path d="M829.36 291.88 L848.11 299.65 L850.22 294.56 L863.72 311.63 L842.11 314.15 L844.21 309.07 L825.46 301.30Z" fill="#ff0000"/><path d="M837.90 291.88 L856.65 299.65 L858.76 294.56 L872.25 311.63 L850.64 314.15 L852.75 309.07 L833.99 301.30Z" fill="#ff0000"/><path d="M846.43 291.88 L865.19 299.65 L867.29 294.56 L880.79 311.63 L859.18 314.15 L861.29 309.07 L842.53 301.30Z" fill="#ff0000"/><path d="M854.97 291.88 L873.73 299.65 L875.83 294.56 L889.33 311.63 L867.72 314.15 L869.82 309.07 L851.07 301.30Z" fill="#ff0000"/><path d="M863.51 282.41 L882.26 290.18 L884.37 285.10 L897.87 302.16 L876.26 304.68 L878.36 299.60 L859.61 291.83Z" fill="#ffff00"/><path d="M877.99 277.09 L892.35 291.45 L896.24 287.56 L902.18 308.49 L881.25 302.55 L885.14 298.66 L870.78 284.31Z" fill="#ffff00"/><path d="M886.53 267.63 L900.89 281.98 L904.77 278.09 L910.71 299.02 L889.78 293.08 L893.67 289.19 L879.32 274.84Z" fill="#ffff00"/><path d="M895.07 267.63 L909.42 281.98 L913.31 278.09 L919.25 299.02 L898.32 293.08 L902.21 289.19 L887.86 274.84Z" fill="#ffff00"/><path d="M903.61 267.63 L917.96 281.98 L921.85 278.09 L927.79 299.02 L906.86 293.08 L910.75 289.19 L896.39 274.84Z" fill="#ffff00"/><path d="M912.14 258.16 L926.50 272.51 L930.39 268.62 L936.33 289.56 L915.40 283.62 L919.29 279.73 L904.93 265.37Z" fill="#ffff00"/><path d="M920.68 258.16 L935.04 272.51 L938.92 268.62 L944.86 289.56 L923.93 283.62 L927.82 279.73 L913.47 265.37Z" fill="#ffff00"/><path d="M929.22 258.16 L943.57 272.51 L947.46 268.62 L953.40 289.56 L932.47 283.62 L936.36 279.73 L922.01 265.37Z" fill="#ffff00"/><path d="M937.76 258.16 L952.11 272.51 L956.00 268.62 L961.94 289.56 L941.01 283.62 L944.90 279.73 L930.54 265.37Z" fill="#ffff00"/><path d="M940.35 272.94 L959.10 280.71 L961.21 275.63 L974.70 292.70 L953.09 295.22 L955.20 290.14 L936.44 282.37Z" fill="#ffff00"/><path d="M948.88 282.41 L967.64 290.18 L969.74 285.10 L983.24 302.16 L961.63 304.68 L963.74 299.60 L944.98 291.83Z" fill="#ffff00"/><path d="M957.42 291.88 L976.18 299.65 L978.28 294.56 L991.78 311.63 L970.17 314.15 L972.27 309.07 L953.52 301.30Z" fill="#ff0000"/><path d="M965.96 301.34 L984.71 309.11 L986.82 304.03 L1000.32 321.10 L978.71 323.62 L980.81 318.54 L962.06 310.77Z" fill="#ff0000"/><path d="M974.50 301.34 L993.25 309.11 L995.36 304.03 L1008.85 321.10 L987.24 323.62 L989.35 318.54 L970.59 310.77Z" fill="#ff0000"/><path d="M983.03 301.34 L1001.79 309.11 L1003.89 304.03 L1017.39 321.10 L995.78 323.62 L997.89 318.54 L979.13 310.77Z" fill="#ff0000"/><path d="M991.57 301.34 L1010.33 309.11 L1012.43 304.03 L1025.93 321.10 L1004.32 323.62 L1006.42 318.54 L987.67 310.77Z" fill="#ff0000"/><path d="M1006.06 286.56 L1020.41 300.91 L1024.30 297.02 L1030.24 317.96 L1009.31 312.02 L1013.20 308.13 L998.84 293.77Z" fill="#ff0000"/></g>
<text x="51" y="413.3" font-family="Liberation Sans" font-size="16.5" text-anchor="end" fill="#000">0</text>
<text x="51" y="366.0" font-family="Liberation Sans" font-size="16.5" text-anchor="end" fill="#000">1</text>
<text x="51" y="318.6" font-family="Liberation Sans" font-size="16.5" text-anchor="end" fill="#000">2</text>
<text x="51" y="271.3" font-family="Liberation Sans" font-size="16.5" text-anchor="end" fill="#000">3</text>
<text x="51" y="224.0" font-family="Liberation Sans" font-size="16.5" text-anchor="end" fill="#000">4</text>
<text x="51" y="176.6" font-family="Liberation Sans" font-size="16.5" text-anchor="end" fill="#000">5</text>
<text x="51" y="129.3" font-family="Liberation Sans" font-size="16.5" text-anchor="end" fill="#000">6</text>
<text x="1028" y="413.3" font-family="Liberation Sans" font-size="16.5" fill="#000">0</text>
<text x="1028" y="366.0" font-family="Liberation Sans" font-size="16.5" fill="#000">5</text>
<text x="1028" y="318.6" font-family="Liberation Sans" font-size="16.5" fill="#000">10</text>
<text x="1028" y="271.3" font-family="Liberation Sans" font-size="16.5" fill="#000">15</text>
<text x="1028" y="224.0" font-family="Liberation Sans" font-size="16.5" fill="#000">20</text>
<text x="1028" y="176.6" font-family="Liberation Sans" font-size="16.5" fill="#000">25</text>
<text x="1028" y="129.3" font-family="Liberation Sans" font-size="16.5" fill="#000">30</text>
<text transform="translate(21,378) rotate(-90)" font-family="Liberation Sans" font-size="23" fill="#000">Wave Height - Metres</text>
<text transform="translate(1059,162) rotate(90)" font-family="Liberation Sans" font-size="23" fill="#000">Wind Speed - Knots</text>
<text x="533.5" y="30" font-family="Liberation Sans" font-size="27" text-anchor="middle" fill="#000">7 day wind &amp; wave forecast for Meer Island Barge</text>
<text x="128.1" y="434.7" font-family="Liberation Sans" font-size="16" text-anchor="middle" letter-spacing="0.4" fill="#000">Thursday</text>
<text x="130.4" y="459" font-family="Liberation Sans" font-size="18.5" text-anchor="middle" letter-spacing="1.3" fill="#808080">22nd</text>
<text x="129.4" y="59.6" font-family="Liberation Sans" font-size="17.5" text-anchor="middle" letter-spacing="0.9" fill="#000">28-29°</text>
<use href="#icon" transform="translate(130.0,93.5)"/>
<text x="264.7" y="434.7" font-family="Liberation Sans" font-size="16" text-anchor="middle" letter-spacing="0.4" fill="#000">Friday</text>
<text x="266.9" y="459" font-family="Liberation Sans" font-size="18.5" text-anchor="middle" letter-spacing="1.3" fill="#808080">23rd</text>
<text x="266.0" y="59.6" font-family="Liberation Sans" font-size="17.5" text-anchor="middle" letter-spacing="0.9" fill="#000">28-29°</text>
<use href="#icon" transform="translate(266.6,93.5)"/>
<text x="404.1" y="434.7" font-family="Liberation Sans" font-size="16" text-anchor="middle" letter-spacing="0.4" fill="#000" font-weight="bold">Saturday</text>
<text x="403.5" y="459" font-family="Liberation Sans" font-size="18.5" text-anchor="middle" letter-spacing="1.3" fill="#808080">24th</text>
<text x="402.6" y="59.6" font-family="Liberation Sans" font-size="17.5" text-anchor="middle" letter-spacing="0.9" fill="#000">28-28°</text>
<use href="#icon" transform="translate(403.2,93.5)"/>
<text x="540.6" y="434.7" font-family="Liberation Sans" font-size="16" text-anchor="middle" letter-spacing="0.4" fill="#000" font-weight="bold">Sunday</text>
<text x="540.1" y="459" font-family="Liberation Sans" font-size="18.5" text-anchor="middle" letter-spacing="1.3" fill="#808080">25th</text>
<text x="539.2" y="59.6" font-family="Liberation Sans" font-size="17.5" text-anchor="middle" letter-spacing="0.9" fill="#000">28-29°</text>
<use href="#icon" transform="translate(539.8,93.5)"/>
<text x="674.5" y="434.7" font-family="Liberation Sans" font-size="16" text-anchor="middle" letter-spacing="0.4" fill="#000">Monday</text>
<text x="676.7" y="459" font-family="Liberation Sans" font-size="18.5" text-anchor="middle" letter-spacing="1.3" fill="#808080">26th</text>
<text x="675.8" y="59.6" font-family="Liberation Sans" font-size="17.5" text-anchor="middle" letter-spacing="0.9" fill="#000">28-29°</text>
<use href="#icon" transform="translate(676.4,93.5)"/>
<text x="811.1" y="434.7" font-family="Liberation Sans" font-size="16" text-anchor="middle" letter-spacing="0.4" fill="#000">Tuesday</text>
<text x="813.3" y="459" font-family="Liberation Sans" font-size="18.5" text-anchor="middle" letter-spacing="1.3" fill="#808080">27th</text>
<text x="812.4" y="59.6" font-family="Liberation Sans" font-size="17.5" text-anchor="middle" letter-spacing="0.9" fill="#000">28-29°</text>
<use href="#icon" transform="translate(813.0,93.5)"/>
<text x="947.7" y="434.7" font-family="Liberation Sans" font-size="16" text-anchor="middle" letter-spacing="0.4" fill="#000">Wednesday</text>
<text x="949.9" y="459" font-family="Liberation Sans" font-size="18.5" text-anchor="middle" letter-spacing="1.3" fill="#808080">28th</text>
<text x="949.0" y="59.6" font-family="Liberation Sans" font-size="17.5" text-anchor="middle" letter-spacing="0.9" fill="#000">28-29°</text>
<use href="#icon" transform="translate(949.6,93.5)"/>
</svg>
</body></html>
